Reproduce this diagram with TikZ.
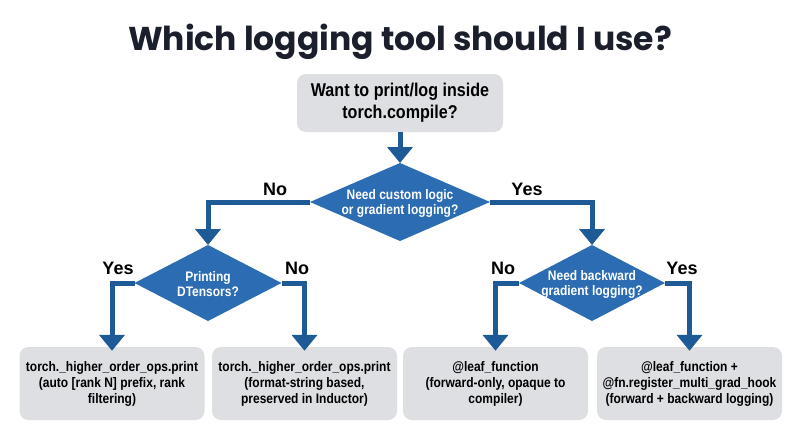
\documentclass[tikz,border=0pt]{standalone}
\usepackage{fontspec}
\setmainfont[FakeStretch=0.87]{Liberation Sans}
\newfontfamily\labfont{Liberation Sans}
\newfontfamily\titlefont{Poppins}
\usetikzlibrary{arrows.meta}
\definecolor{boxgray}{HTML}{DDDFE3}
\definecolor{dblue}{HTML}{1E5A96}
\definecolor{mblue}{HTML}{2B6CB3}
\definecolor{titlec}{HTML}{1A1F2B}
\begin{document}
\begin{tikzpicture}[x=1pt,y=-1pt,
  gbox/.style={draw=none,fill=boxgray,rounded corners=9pt,align=center,font=\bfseries\fontsize{13.8}{16}\selectfont,inner sep=0pt,minimum width=185pt,minimum height=73pt},
  diatext/.style={text=white,align=center,font=\bfseries\fontsize{13.8}{15}\selectfont,inner sep=0pt},
  diafill/.style={fill=mblue},
  conn/.style={dblue,line width=5pt,line join=miter,-{Triangle[width=25pt,length=16pt]}},
  lab/.style={font=\labfont\bfseries\fontsize{18}{20}\selectfont,text=black}]
\useasboundingbox (0,0) rectangle (800,447);
\fill[white] (0,0) rectangle (800,447);
\node[font=\titlefont\bfseries\fontsize{33}{36}\selectfont,text=titlec] (title) at (400,42) {Which logging tool should I use?};
\node[gbox,minimum width=206pt,minimum height=58pt,font=\bfseries\fontsize{18.5}{22}\selectfont] (q0) at (400,103) {Want to print/log inside\\torch.compile?};
% diamonds
\coordinate (d1t) at (400,163); \coordinate (d1b) at (400,241);
\coordinate (d1l) at (310,202); \coordinate (d1r) at (490,202);
\coordinate (d2t) at (208,245); \coordinate (d2b) at (208,321);
\coordinate (d2l) at (134.5,283); \coordinate (d2r) at (281.5,283);
\coordinate (d3t) at (592,245); \coordinate (d3b) at (592,321);
\coordinate (d3l) at (519,283); \coordinate (d3r) at (665,283);
\fill[diafill] (d1t) -- (d1r) -- (d1b) -- (d1l) -- cycle;
\fill[diafill] (d2t) -- (d2r) -- (d2b) -- (d2l) -- cycle;
\fill[diafill] (d3t) -- (d3r) -- (d3b) -- (d3l) -- cycle;
\node[diatext] (d1) at (400,203) {Need custom logic\\or gradient logging?};
\node[diatext] (d2) at (208,284) {Printing\\DTensors?};
\node[diatext] (d3) at (592,284) {Need backward\\gradient logging?};
\node[gbox] (b1) at (112,383.5) {torch.\_higher\_order\_ops.print\\(auto [rank N] prefix, rank\\filtering)};
\node[gbox] (b2) at (304.5,383.5) {torch.\_higher\_order\_ops.print\\(format-string based,\\preserved in Inductor)};
\node[gbox] (b3) at (495.5,383.5) {@leaf\_function\\(forward-only, opaque to\\compiler)};
\node[gbox] (b4) at (689.5,383.5) {@leaf\_function +\\@fn.register\_multi\_grad\_hook\\(forward + backward logging)};
\draw[conn] (q0.south) -- (d1t);
\draw[conn] (d1l) -| (d2t);
\draw[conn] (d1r) -| (d3t);
\draw[conn] (d2l) -| ([yshift=-4pt]b1.north);
\draw[conn] (d2r) -| ([yshift=-4pt]b2.north);
\draw[conn] (d3l) -| ([yshift=-4pt]b3.north);
\draw[conn] (d3r) -| ([yshift=-4pt]b4.north);
\node[lab] (l1) at (275,189) {No};
\node[lab] (l2) at (527,189) {Yes};
\node[lab] (l3) at (118,268) {Yes};
\node[lab] (l4) at (297,268) {No};
\node[lab] (l5) at (503,268) {No};
\node[lab] (l6) at (682,268) {Yes};
\end{tikzpicture}
\end{document}
